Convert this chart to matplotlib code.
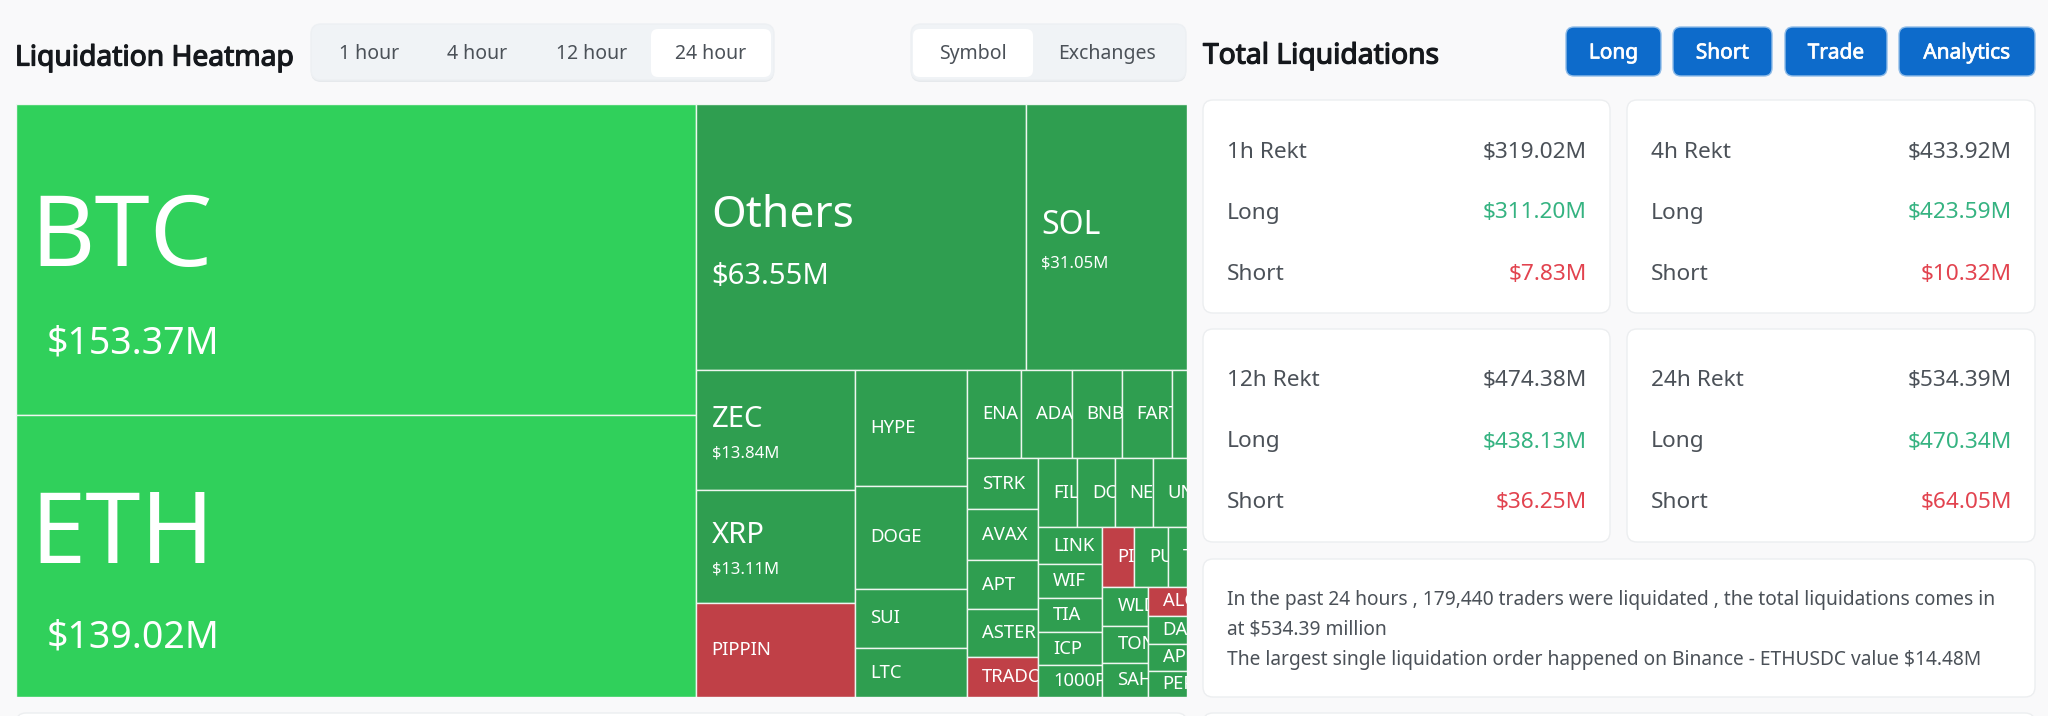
import matplotlib
matplotlib.use("Agg")
import matplotlib.pyplot as plt
import matplotlib.patheffects as pe
from matplotlib.patches import Rectangle, FancyBboxPatch

plt.rcParams['font.family'] = ['Noto Sans', 'DejaVu Sans']

# ---------- data ----------
names_major = ['BTC', 'ETH']
values_major = [153.37, 139.02]
names_top = ['Others', 'SOL']
values_top = [63.55, 31.05]
names_col1 = ['ZEC', 'XRP', 'PIPPIN']
values_col1 = [13.84, 13.11, 10.85]
names_col2 = ['HYPE', 'DOGE', 'SUI', 'LTC']
values_col2 = [9.44, 8.38, 4.80, 3.98]
names_row3 = ['ENA', 'ADA', 'BNB', 'FARTCOIN', '?']
values_row3 = [3.48, 3.23, 3.23, 3.21, 0.99]
names_col4 = ['STRK', 'AVAX', 'APT', 'ASTER', 'TRADOOR']
values_col4 = [2.62, 2.62, 2.50, 2.47, 2.05]
names_row5 = ['FIL', 'DOT', 'NEAR', 'UNI']
values_row5 = [1.92, 1.88, 1.89, 1.70]
names_col6 = ['LINK', 'WIF', 'TIA', 'ICP', '1000PEPE']
values_col6 = [1.74, 1.56, 1.62, 1.53, 1.48]
names_row7 = ['PIEVERSE', 'PUMP', 'TRUMP']
values_row7 = [1.38, 1.45, 0.84]
names_col8 = ['WLD', 'TON', 'SAHARA']
values_col8 = [1.28, 1.22, 1.12]
names_col9 = ['ALGO', 'DASH', 'APE', 'PEPE']
values_col9 = [0.82, 0.80, 0.77, 0.75]
short_heavy = ['PIPPIN', 'TRADOOR', 'PIEVERSE', 'ALGO']
shown_values = ['BTC', 'ETH', 'Others', 'SOL', 'ZEC', 'XRP']

windows = ['1h Rekt', '4h Rekt', '12h Rekt', '24h Rekt']
totals = ['$319.02M', '$433.92M', '$474.38M', '$534.39M']
longs = ['$311.20M', '$423.59M', '$438.13M', '$470.34M']
shorts = ['$7.83M', '$10.32M', '$36.25M', '$64.05M']

tabs = ['1 hour', '4 hour', '12 hour', '24 hour']
modes = ['Symbol', 'Exchanges']
buttons = ['Long', 'Short', 'Trade', 'Analytics']
info_lines = ['In the past 24 hours , 179,440 traders were liquidated , the total liquidations comes in',
              'at $534.39 million',
              'The largest single liquidation order happened on Binance - ETHUSDC value $14.48M']

value_of = {}
for ns, vs in [(names_major, values_major), (names_top, values_top), (names_col1, values_col1),
               (names_col2, values_col2), (names_row3, values_row3), (names_col4, values_col4),
               (names_row5, values_row5), (names_col6, values_col6), (names_row7, values_row7),
               (names_col8, values_col8), (names_col9, values_col9)]:
    value_of.update(zip(ns, vs))

# nested split tree: 'h' splits side by side, 'v' stacks
def V(*k): return ('v', list(k))
def H(*k): return ('h', list(k))
tree = H(V(*names_major),
         V(H(*names_top),
           H(V(*names_col1), V(*names_col2),
             V(H(*names_row3),
               H(V(*names_col4),
                 V(H(*names_row5),
                   H(V(*names_col6),
                     V(H(*names_row7),
                       H(V(*names_col8), V(*names_col9))))))))))

def total(n):
    return value_of[n] if isinstance(n, str) else sum(total(c) for c in n[1])

def layout(n, x, y, w, h, out):
    if isinstance(n, str):
        out.append((n, x, y, w, h))
        return
    t = total(n)
    for c in n[1]:
        f = total(c) / t
        if n[0] == 'h':
            layout(c, x, y, w * f, h, out)
            x += w * f
        else:
            layout(c, x, y, w, h * f, out)
            y += h * f

# ---------- styles ----------
W, H_ = 2048, 716
BG = '#f9f9fa'
BRIGHT, GREEN, RED = '#30d05b', '#2f9e50', '#c04047'
INK, GREY = '#15181c', '#4b5158'
TXT_G, TXT_R = '#35b381', '#e2434f'

# size (pt), pad px, name offset px, value offset px, value size (pt)
label_style = {
    'BTC': (71.5, 14, -19, 84, 27), 'ETH': (71.5, 14, -19, 81, 27),
    'Others': (32, 15, -21, 40, 21), 'SOL': (23, 15, -11, 27, 12),
    'ZEC': (21, 16, -10, 24, 12), 'XRP': (21, 16, -11, 23, 12),
}
BOLD = [pe.withStroke(linewidth=0.9, foreground=INK)]
BOLD_W = [pe.withStroke(linewidth=0.5, foreground='white')]

fig = plt.figure(figsize=(W / 100, H_ / 100), dpi=100, facecolor=BG)
ui = fig.add_axes([0, 0, 1, 1])
ui.set_xlim(0, W); ui.set_ylim(H_, 0); ui.axis('off')

def box(x0, y0, x1, y1, fc, ec='none', r=8, lw=1.0, z=1):
    ui.add_patch(FancyBboxPatch((x0, y0), x1 - x0, y1 - y0,
                                boxstyle=f'round,pad=0,rounding_size={r}',
                                fc=fc, ec=ec, lw=lw, zorder=z))

def txt(x, y, s, size=13, color=GREY, ha='left', weight='normal', effects=None):
    t = ui.text(x, y, s, fontsize=size, color=color, ha=ha, va='center', weight=weight, zorder=5)
    if effects:
        t.set_path_effects(effects)

# header left
txt(15, 58, 'Liquidation Heatmap', 20.3, INK, effects=BOLD)
for x0, x1 in [(311, 774), (911, 1186)]:
    box(x0, 26, x1, 82, '#e6e9ec', r=10, z=1)
    box(x0, 24, x1, 80, '#f0f3f6', '#edf0f3', r=10, z=1)
box(651, 29, 771, 77, 'white', r=7, z=2)
for cx, s in zip([369, 477, 591.5, 711], tabs):
    txt(cx, 54, s, 14, GREY, 'center')
box(913, 29, 1033, 77, 'white', r=7, z=2)
for cx, s in zip([973, 1107], modes):
    txt(cx, 54, s, 14, GREY, 'center')

# header right
txt(1203, 56, 'Total Liquidations', 20.3, INK, effects=BOLD)
for (x0, x1), s in zip([(1566, 1661), (1673, 1772), (1785, 1887), (1899, 2035)], buttons):
    box(x0, 27, x1, 76, '#0d6bcb', '#8fbce8', r=8)
    txt((x0 + x1) / 2, 53, s, 15, 'white', 'center', effects=BOLD_W)

# stat cards
card_x = [(1203, 1610), (1627, 2035), (1203, 1610), (1627, 2035)]
card_y = [(100, 313), (100, 313), (329, 542), (329, 542)]
for (x0, x1), (y0, y1), a, b, c, d in zip(card_x, card_y, windows, totals, longs, shorts):
    box(x0, y0, x1, y1, 'white', '#eceef0', r=10)
    rows = [y0 + 52, y0 + 113, y0 + 174]
    for yy, l, v, col in zip(rows, [a, 'Long', 'Short'], [b, c, d], [GREY, TXT_G, TXT_R]):
        txt(x0 + 24, yy, l, 16.3, GREY)
        txt(x1 - 23, yy, v, 16.3, col, 'right')

# info box
box(1203, 559, 2035, 697, 'white', '#eceef0', r=10)
for yy, s in zip([600, 630, 660], info_lines):
    txt(1227, yy, s, 13.8, GREY)

# cards cut off below
box(16, 713, 1187, 760, 'white', '#eceef0', r=10)
box(1203, 713, 2035, 760, 'white', '#eceef0', r=10)

# treemap
TX0, TX1, TY0, TY1 = 16, 1187, 104, 697
ax = fig.add_axes([TX0 / W, 1 - TY1 / H_, (TX1 - TX0) / W, (TY1 - TY0) / H_])
ax.set_xlim(0, total(tree)); ax.set_ylim(total(tree), 0); ax.axis('off')
cells = []
layout(tree, 0, 0, total(tree), total(tree), cells)
sx = (TX1 - TX0) / total(tree)
sy = (TY1 - TY0) / total(tree)
for n, x, y, w, h in cells:
    fc = BRIGHT if n in names_major else (RED if n in short_heavy else GREEN)
    r = Rectangle((x, y), w, h, fc=fc, ec='#eef6f0', lw=1.0)
    ax.add_patch(r)
    if n == '?':
        continue
    size, pad, d1, d2, vs = label_style.get(n, (13.3, 15, 0, 0, 11))
    cy = y + h / 2
    t = ax.text(x + pad / sx, cy + d1 / sy, n, fontsize=size, color='white', ha='left', va='center')
    t.set_clip_path(r); t.set_clip_on(True)
    if n in shown_values:
        vpad = 31 if n in names_major else pad
        ax.text(x + vpad / sx, cy + d2 / sy, f'${value_of[n]:.2f}M', fontsize=vs,
                color='white', ha='left', va='center')

fig.savefig('out.png', dpi=100, facecolor=BG)
